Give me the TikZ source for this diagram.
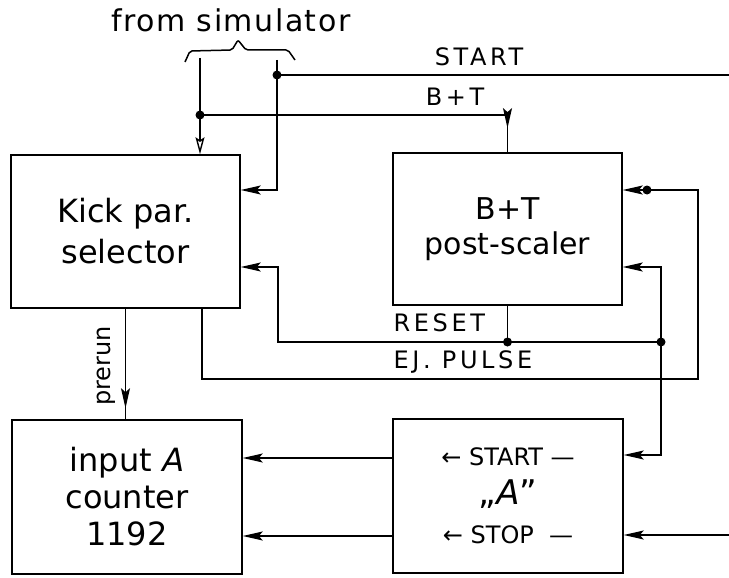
\documentclass[tikz,border=0pt]{standalone}
\usepackage{fontspec}
\setmainfont{DejaVu Sans}
\usetikzlibrary{arrows.meta,decorations.markings}
\newcommand{\spc}{\addfontfeatures{LetterSpace=15}}
\begin{document}
\begin{tikzpicture}[x=1pt,y=-1pt,line width=1.4pt,
  box/.style={draw,line width=1.5pt,inner sep=0pt,align=center},
  arr/.style={-{Stealth[length=20pt,width=9pt,inset=4pt]}},
  openarr/.style={-{Stealth[open,length=17pt,width=9pt,inset=3pt]}},
  dot/.style={circle,fill,inner sep=0pt,minimum size=9pt},
  lbl/.style={font=\fontsize{24}{28}\selectfont\spc,inner sep=0pt},
  midarr/.style={postaction={decorate},decoration={markings,mark=at position #1 with {\arrow{Stealth[length=20pt,width=9pt,inset=4pt]}}}}]
\useasboundingbox (0,0) rectangle (729,578);

% boxes
\node[box,minimum width=229pt,minimum height=153pt,font=\fontsize{32}{41}\selectfont] (kick) at (125.5,231.5) {Kick par.\\selector};
\node[box,minimum width=229pt,minimum height=152pt,font=\fontsize{30}{35}\selectfont] (post) at (507.5,229) {B+T\\post-scaler};
\node[box,minimum width=230pt,minimum height=154pt,font=\fontsize{32}{37}\selectfont] (counter) at (127,497) {input \textit{A}\\counter\\1192};
\node[box,minimum width=230pt,minimum height=154pt,font=\fontsize{24}{39}\selectfont] (abox) at (508,496) {← START —\\{\fontsize{34}{39}\selectfont „\textit{A}"}\\← STOP \ —};

% labels
\node[font=\fontsize{30}{34}\selectfont\addfontfeatures{LetterSpace=5}] (sim) at (231,20) {from simulator};
\node[lbl] (lstart) at (479,57) {START};
\node[lbl] (lbt) at (455,97) {B+T};
\node[lbl,anchor=west] (lreset) at (393,323) {RESET};
\node[lbl,anchor=west] (lej) at (393,362) {EJ. PULSE};
\node[font=\fontsize{24}{28}\selectfont,rotate=90,inner sep=0pt] (lpre) at (106,366) {prerun};

% brace
\draw[line width=1.5pt,rounded corners=2pt] (185,62) -- (190,51) -- (232,50) -- (238,40) -- (246,50) -- (288,50) -- (295,60);

% coordinates
\coordinate (s1) at (200,58);
\coordinate (j1) at (200,115);
\coordinate (s2) at (277,60);
\coordinate (j2) at (277,75);
\coordinate (startR) at (729,75);
\coordinate (stopR) at (729,535);
\coordinate (r1) at (507.5,342);
\coordinate (r2) at (661,342);
\coordinate (e1) at (202,379);
\coordinate (e2) at (698,379);
\coordinate (e3) at (647,190);

% simulator wires
\draw (s1) -- (j1);
\draw[openarr] (j1) -- (j1 |- kick.north);
\draw[midarr=0.93] (j1) -| (post.north);
\draw (s2) -- (j2);
\draw (j2) -- (startR);
\draw[arr] (j2) |- ([yshift=41.5pt]kick.east);

% reset line
\draw (post.south) -- (r1);
\draw (r1) -- (r2);
\draw[arr] (r1) -| (278,342) |- ([yshift=-35.5pt]kick.east);
\draw[arr] (r2) |- ([yshift=-38pt]post.east);
\draw[arr] (r2) |- ([yshift=41pt]abox.east);

% ej pulse
\draw[arr] (e1 |- kick.south) -- (e1) -- (e2) |- ([yshift=39pt]post.east);

% prerun
\draw[midarr=0.9] (kick.south) -- (kick.south |- counter.north);

% A to counter
\draw[arr] ([yshift=38pt]abox.west) -- ([yshift=38pt]abox.west -| counter.east);
\draw[arr] ([yshift=-40pt]abox.west) -- ([yshift=-40pt]abox.west -| counter.east);
\draw[arr] (stopR) -- (stopR -| abox.east);

% dots
\node[dot] at (j1) {};
\node[dot] at (j2) {};
\node[dot] at (r1) {};
\node[dot] at (r2) {};
\node[dot] at (e3) {};
\end{tikzpicture}
\end{document}
